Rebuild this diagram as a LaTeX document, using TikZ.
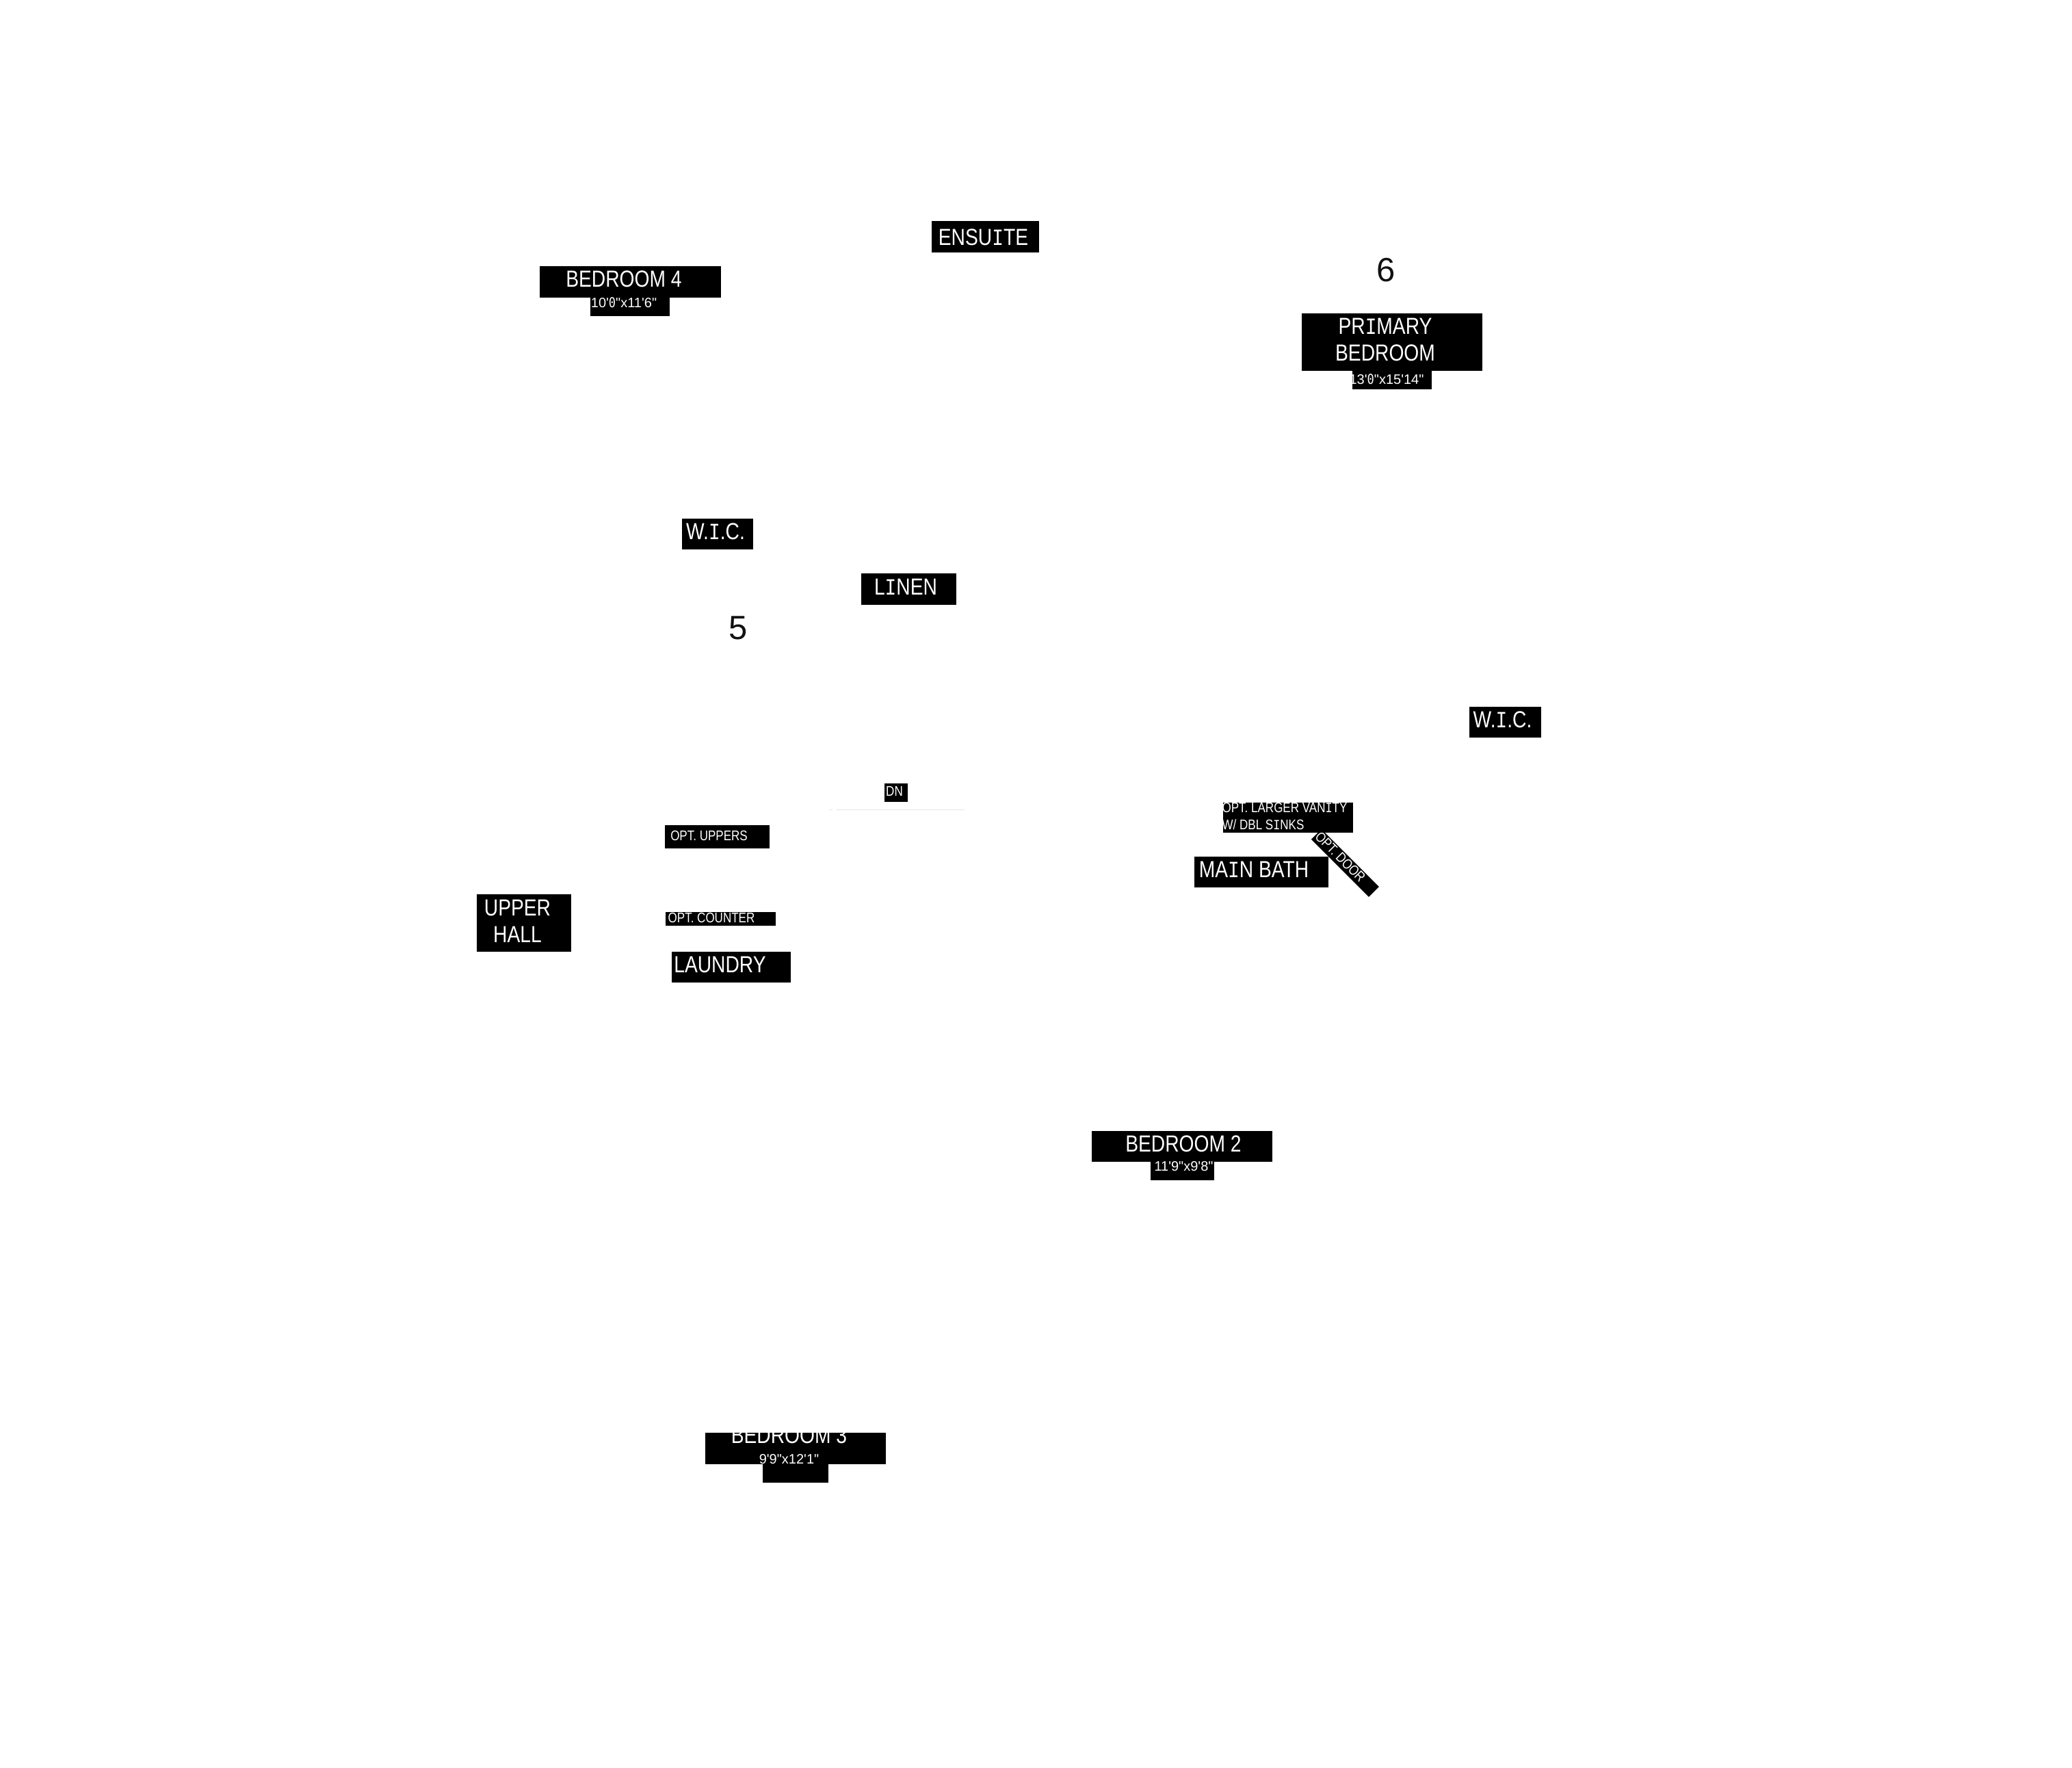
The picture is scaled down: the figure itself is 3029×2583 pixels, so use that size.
\documentclass[tikz,border=0pt]{standalone}
\usepackage{fontspec}
\setmainfont{Liberation Sans}[FakeStretch=0.83]
\newfontfamily\dimface{Liberation Sans}
\newfontfamily\slabface{Liberation Mono}[FakeStretch=0.82]
\newfontfamily\zeroface{DejaVu Sans Mono}[FakeStretch=0.85]
\newcommand{\sI}{{\slabface I}}
\newcommand{\sZ}{{\zeroface 0}}

\tikzset{
    tagbox/.style 2 args={rectangle, fill=black, inner sep=0pt, minimum width=#1*0.25pt, minimum height=#2*0.25pt},
    bigtext/.style={text=white, inner sep=0pt, anchor=base, font=\fontsize{8.5}{9.75}\selectfont},
    smalltext/.style={text=white, inner sep=0pt, anchor=base, font=\fontsize{5.125}{6.25}\selectfont},
    dimtext/.style={text=white, inner sep=0pt, anchor=base, font=\dimface\fontsize{5}{6}\selectfont},
    zonetext/.style={text={rgb,255:red,17;green,17;blue,17}, inner sep=0pt, anchor=base, font=\dimface\fontsize{12.25}{14}\selectfont}
}

\begin{document}
\begin{tikzpicture}[x=0.25pt, y=-0.25pt]
\useasboundingbox (0, 0) rectangle (3029, 2583);

\begin{scope}
    \node (ensuite) at (1440.5, 346) [tagbox={157}{46}] {};
    \node (ensuitetext) at (1437.5, 358) [bigtext] {ENSU\sI TE};

    \node (bedfour) at (921, 412) [tagbox={265}{46}] {};
    \node (bedfourtext) at (912, 419) [bigtext] {BEDROOM 4};
    \node (bedfourdim) at (921, 448.5) [tagbox={116}{27}] {};
    \node (bedfourdimtext) at (912, 449) [dimtext] {10'\sZ"x11'6"};

    \node (zonesix) at (2026, 411) [zonetext] {6};
    \node (primary) at (2035, 500) [tagbox={264}{84}] {};
    \node (primarytext) at (2025, 527) [bigtext, align=center] {PR\sI MARY\\BEDROOM};
    \node (primarydim) at (2035, 555.5) [tagbox={116}{27}] {};
    \node (primarydimtext) at (2027, 561) [dimtext] {13'\sZ"x15'14"};

    \node (wicleft) at (1049, 780) [tagbox={104}{45}] {};
    \node (wiclefttext) at (1046, 788) [bigtext] {W.\sI.C.};
    \node (linen) at (1328.5, 861) [tagbox={139}{46}] {};
    \node (linentext) at (1324, 869) [bigtext] {L\sI NEN};
    \node (zonefive) at (1079, 934) [zonetext] {5};

    \node (wicright) at (2200.5, 1055.5) [tagbox={105}{45}] {};
    \node (wicrighttext) at (2196.5, 1063) [bigtext] {W.\sI.C.};

    \node (dn) at (1310, 1158.5) [tagbox={34}{27}] {};
    \node (dntext) at (1307.5, 1163) [smalltext] {DN};

    \node (uppers) at (1048.5, 1223) [tagbox={153}{34}] {};
    \node (upperstext) at (1036.5, 1228) [smalltext] {OPT. UPPERS};
    \node (counter) at (1053.5, 1343) [tagbox={161}{20}] {};
    \node (countertext) at (1040, 1348) [smalltext] {OPT. COUNTER};
    \node (laundry) at (1069, 1413.5) [tagbox={174}{45}] {};
    \node (laundrytext) at (1052.5, 1421) [bigtext] {LAUNDRY};
    \node (hall) at (766, 1349) [tagbox={138}{84}] {};
    \node (halltext) at (756.5, 1377) [bigtext, align=center] {UPPER\\HALL};

    \node (door) at (1966.3, 1261.3) [tagbox={119}{21}, rotate=-45] {};
    \node (doortext) at (1954.5, 1257.5) [smalltext, rotate=-45] {OPT. DOOR};
    \node (vanity) at (1883, 1195) [tagbox={190}{44}] {};
    \node (vanitytext) at (1878, 1212) [smalltext, align=left] {OPT. LARGER VAN\sI TY\\W/ DBL S\sI NKS};
    \node (bath) at (1844, 1274.5) [tagbox={196}{45}] {};
    \node (bathtext) at (1833, 1282) [bigtext] {MA\sI N BATH};

    \node (bedtwo) at (1728, 1675.5) [tagbox={264}{45}] {};
    \node (bedtwotext) at (1730, 1683) [bigtext] {BEDROOM 2};
    \node (bedtwodim) at (1728.5, 1711.5) [tagbox={93}{27}] {};
    \node (bedtwodimtext) at (1730.5, 1711) [dimtext] {11'9"x9'8"};

    \node (bedthree) at (1163, 2117) [tagbox={264}{46}] {};
    \node (bedthreetext) at (1153.5, 2109) [bigtext] {BEDROOM 3};
    \node (bedthreedim) at (1163, 2153.5) [tagbox={96}{27}] {};
    \node (bedthreedimtext) at (1153.5, 2139) [dimtext] {9'9"x12'1"};
\end{scope}

% faint stair line below DN
\coordinate (stairfar) at (1212, 1183);
\coordinate (stairgapa) at (1217, 1183);
\coordinate (stairgapb) at (1223, 1183);
\coordinate (stairnear) at (1410, 1183);
\draw [line width=0.25pt, black!10] (stairfar) -- (stairgapa) (stairgapb) -- (stairnear);
\end{tikzpicture}
\end{document}
